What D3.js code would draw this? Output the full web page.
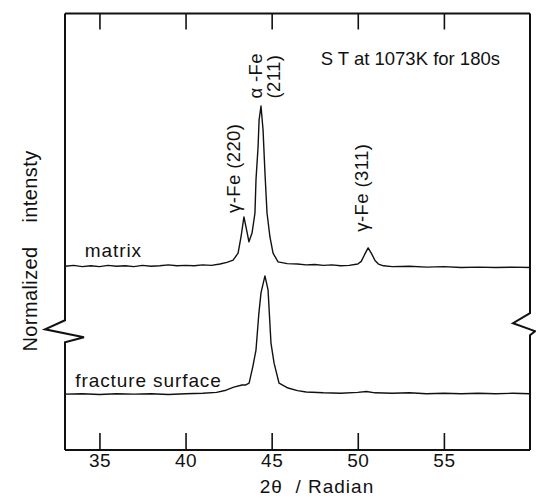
<!DOCTYPE html>
<html>
<head>
<meta charset="utf-8">
<script src="https://cdn.jsdelivr.net/npm/d3@7"></script>
<style>
  html, body { margin: 0; padding: 0; background: #fff; }
  svg { display: block; }
  text { font-family: "Liberation Sans", Arial, sans-serif; fill: #111; white-space: pre; }
</style>
</head>
<body>
<svg id="chart" width="536" height="499"></svg>
<script>
// ---------------- data ----------------
const xTicks = [35, 40, 45, 50, 55];
const xTickLabels = ["35", "40", "45", "50", "55"];

// matrix trace: 2θ and normalized intensity
const matrixTheta = [33.0, 33.5, 34.0, 34.5, 35.0, 35.5, 36.0, 36.5, 37.0, 37.5, 38.0, 38.5, 39.0, 39.5, 40.0, 40.5, 41.0, 41.5, 42.0, 42.4, 42.76, 43.05, 43.22, 43.39, 43.57, 43.68, 43.86, 44.03, 44.09, 44.21, 44.27, 44.38, 44.5, 44.61, 44.73, 44.9, 45.08, 45.37, 45.9, 46.5, 47.0, 47.5, 48.0, 48.5, 49.0, 49.5, 50.0, 50.2, 50.4, 50.6, 50.8, 51.0, 51.2, 51.5, 52.0, 53.0, 54.0, 55.0, 56.0, 57.0, 58.0, 59.0, 60.0];
const matrixInt   = [42.1, 42.3, 42.0, 42.2, 42.0, 42.3, 42.1, 42.2, 42.0, 42.3, 42.1, 42.2, 42.4, 42.2, 42.3, 42.2, 42.4, 42.3, 42.6, 43.0, 43.5, 45.1, 48.8, 53.4, 49.9, 47.7, 49.7, 54.3, 61.9, 69.4, 75.6, 78.8, 73.3, 63.5, 54.3, 48.8, 45.1, 43.1, 42.7, 42.6, 42.4, 42.5, 42.3, 42.4, 42.2, 42.3, 42.6, 43.2, 44.8, 46.3, 45.0, 43.4, 42.6, 42.2, 42.0, 42.1, 41.9, 42.0, 41.8, 41.9, 41.8, 41.9, 41.8];

// fracture surface trace
const fractureTheta = [33.0, 34.0, 35.0, 36.0, 37.0, 38.0, 39.0, 40.0, 41.0, 41.8, 42.35, 42.8, 43.28, 43.5, 43.69, 43.9, 44.09, 44.25, 44.38, 44.61, 44.79, 44.96, 45.14, 45.43, 45.95, 46.5, 47.0, 48.0, 49.0, 50.0, 50.5, 51.0, 52.0, 53.0, 54.0, 55.0, 56.0, 57.0, 58.0, 59.0, 60.0];
const fractureInt   = [12.8, 12.9, 12.7, 12.9, 12.8, 12.9, 12.7, 12.9, 13.0, 13.2, 13.7, 14.4, 14.9, 14.9, 15.3, 19.0, 22.9, 31.0, 36.0, 39.9, 36.7, 24.5, 19.9, 15.3, 14.2, 13.6, 13.3, 13.1, 13.0, 13.2, 13.4, 13.1, 13.0, 13.1, 12.9, 13.0, 12.9, 13.0, 12.9, 13.0, 12.9];

// annotations: [text, 2θ, intensity]
const peakLabels = ["γ-Fe (220)", "α -Fe", "(211)", "γ-Fe (311)"];
const peakLabelTheta = [43.17, 44.45, 45.5, 50.6];
const peakLabelInt = [54.3, 80.5, 80.5, 50.0];

const seriesNames = ["matrix", "fracture surface"];
const seriesNameTheta = [34.15, 33.6];
const seriesNameInt = [44.2, 14.5];

const noteText = "S T at 1073K for 180s";
const xTitle = "2θ  / Radian";
const yTitle = "Normalized    intensty";
const breakLevels = [27.2, 28.6]; // left, right axis break

// ---------------- layout ----------------
const svg = d3.select("#chart");
const L = 65, R = 530, T = 13.5, B = 450;
const x = d3.scaleLinear().domain([33, 60]).range([L, R]);
const y = d3.scaleLinear().domain([0, 100]).range([B, T]);

// frame top and bottom
svg.append("line").attr("x1", L).attr("x2", R).attr("y1", T).attr("y2", T)
  .attr("stroke", "#111").attr("stroke-width", 2);
svg.append("line").attr("x1", L).attr("x2", R).attr("y1", B).attr("y2", B)
  .attr("stroke", "#111").attr("stroke-width", 2);

// left side with break
const lb = y(breakLevels[0]);
svg.append("path")
  .attr("d", `M${L},${T} L${L},${lb - 11} L${L - 20},${lb - 2} L${L + 19},${lb + 6} L${L},${lb + 11} L${L},${B}`)
  .attr("fill", "none").attr("stroke", "#111").attr("stroke-width", 2).attr("stroke-linejoin", "miter");
// right side with break
const rb = y(breakLevels[1]);
svg.append("path")
  .attr("d", `M${R},${T} L${R},${rb - 12} L${R - 17},${rb - 2} L${R + 5},${rb + 6} L${R},${rb + 10} L${R},${B}`)
  .attr("fill", "none").attr("stroke", "#111").attr("stroke-width", 2).attr("stroke-linejoin", "miter");

// bottom axis (inward ticks + labels)
const xAxisB = d3.axisBottom(x).tickValues(xTicks)
  .tickFormat((d, i) => xTickLabels[i]).tickSizeInner(-17).tickSizeOuter(0).tickPadding(4);
const gB = svg.append("g").attr("transform", `translate(0,${B})`).call(xAxisB);
gB.select(".domain").remove();
gB.selectAll("line").attr("stroke", "#111").attr("stroke-width", 1.6);
gB.selectAll("text").attr("font-size", 19).attr("fill", "#111").attr("letter-spacing", 0.5)
  .attr("font-family", "Liberation Sans, Arial, sans-serif");

// top axis (inward ticks)
const xAxisT = d3.axisTop(x).tickValues(xTicks).tickFormat("").tickSizeInner(-16).tickSizeOuter(0);
const gT = svg.append("g").attr("transform", `translate(0,${T})`).call(xAxisT);
gT.select(".domain").remove();
gT.selectAll("line").attr("stroke", "#111").attr("stroke-width", 1.6);

// traces
const line = d3.line().x(d => x(d[0])).y(d => y(d[1]));
svg.append("path").datum(d3.zip(matrixTheta, matrixInt))
  .attr("d", line).attr("fill", "none").attr("stroke", "#111").attr("stroke-width", 1.4).attr("stroke-linejoin", "round");
svg.append("path").datum(d3.zip(fractureTheta, fractureInt))
  .attr("d", line).attr("fill", "none").attr("stroke", "#111").attr("stroke-width", 1.4).attr("stroke-linejoin", "round");

// series names
seriesNames.forEach((s, i) => {
  svg.append("text").attr("x", x(seriesNameTheta[i])).attr("y", y(seriesNameInt[i]))
    .attr("font-size", 19).attr("letter-spacing", 0.9).text(s);
});

// peak labels (rotated)
peakLabels.forEach((s, i) => {
  const px = x(peakLabelTheta[i]), py = y(peakLabelInt[i]);
  svg.append("text").attr("transform", `translate(${px},${py}) rotate(-90)`)
    .attr("font-size", 18.5).attr("letter-spacing", 0.4).text(s);
});

// note
svg.append("text").attr("x", 500).attr("y", 65).attr("text-anchor", "end")
  .attr("font-size", 18.5).text(noteText);

// axis titles
svg.append("text").attr("x", 317).attr("y", 493).attr("text-anchor", "middle")
  .attr("font-size", 19).attr("letter-spacing", 1).text(xTitle);
svg.append("text").attr("transform", `translate(37,251) rotate(-90)`).attr("text-anchor", "middle")
  .attr("font-size", 20).attr("letter-spacing", 0.4).text(yTitle);
</script>
</body>
</html>
